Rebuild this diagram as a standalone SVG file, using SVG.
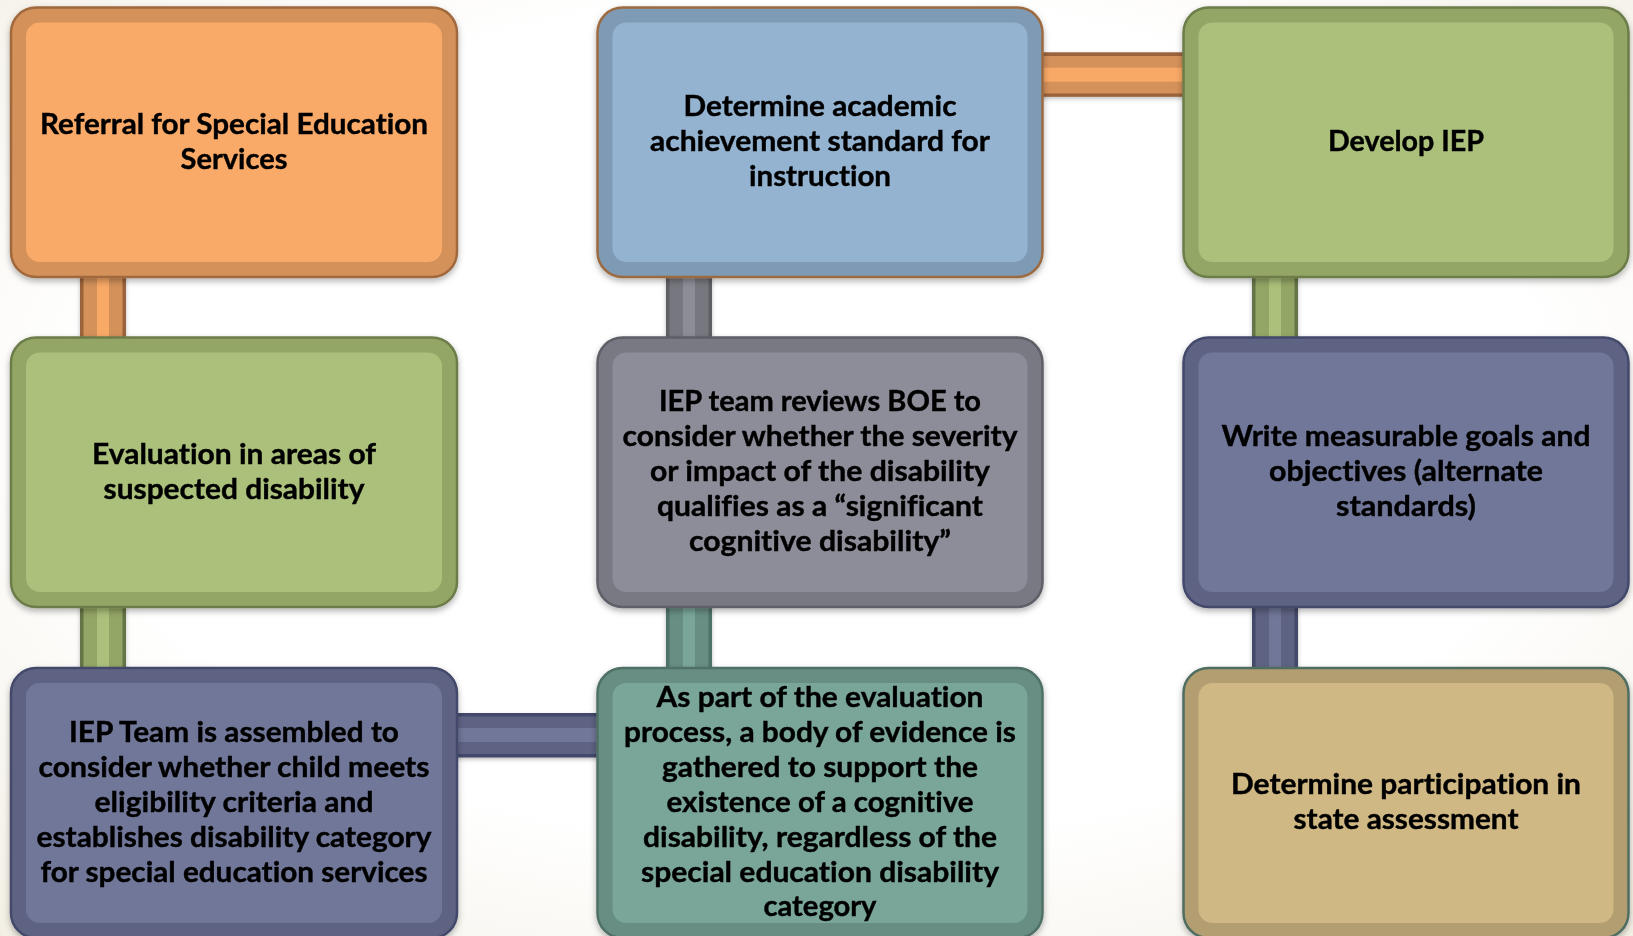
<svg xmlns="http://www.w3.org/2000/svg" width="1633" height="936" viewBox="0 0 1633 936">
<defs>
<radialGradient id="bg" cx="50%" cy="45%" r="75%">
<stop offset="0.6" stop-color="#FFFFFF"/>
<stop offset="1" stop-color="#F3EFE4"/>
</radialGradient>
<filter id="sh" x="-5%" y="-5%" width="110%" height="115%">
<feDropShadow dx="0" dy="3" stdDeviation="3" flood-color="#000" flood-opacity="0.3"/>
</filter>
<filter id="csh" x="-10%" y="-20%" width="120%" height="140%">
<feDropShadow dx="0" dy="2" stdDeviation="2" flood-color="#000" flood-opacity="0.25"/>
</filter>
</defs>
<style>
text{font-family:Lato,"Open Sans","Liberation Sans",sans-serif;font-weight:bold;font-size:29px;fill:#000;stroke:#000;stroke-width:0.4px;text-anchor:middle;font-variant-ligatures:none;font-feature-settings:"liga" 0}
.box{filter:url(#sh)}
.conn{filter:url(#csh)}
.or .o{fill:#9A633A}.or .b{fill:#D4915A}.or .l{fill:#F9A966}
.gr .o{fill:#657547}.gr .b{fill:#93A665}.gr .l{fill:#ABC07A}
.sl .o{fill:#43486A}.sl .b{fill:#5F6483}.sl .l{fill:#717799}
.te .o{fill:#4F7268}.te .b{fill:#678E83}.te .l{fill:#7AA69A}
.gy .o{fill:#5E5E66}.gy .b{fill:#77777F}.gy .l{fill:#8D8D97}
.outer{stroke-width:2.5}
</style>
<rect x="0" y="0" width="1633" height="936" fill="url(#bg)"/>

<g id="connectors">
  <g class="conn or"><rect class="o" x="80" y="268" width="46" height="78"/><rect class="b" x="83.5" y="268" width="39" height="78"/><rect class="l" x="97" y="268" width="12" height="78"/></g>
  <g class="conn gr"><rect class="o" x="80" y="598" width="46" height="78"/><rect class="b" x="83.5" y="598" width="39" height="78"/><rect class="l" x="97" y="598" width="12" height="78"/></g>
  <g class="conn sl"><rect class="o" x="448" y="713" width="158" height="44.5"/><rect class="b" x="448" y="716.5" width="158" height="37.5"/><rect class="l" x="448" y="728" width="158" height="14"/></g>
  <g class="conn te"><rect class="o" x="666" y="598" width="46" height="78"/><rect class="b" x="669.5" y="598" width="39" height="78"/><rect class="l" x="683" y="598" width="12" height="78"/></g>
  <g class="conn gy"><rect class="o" x="666" y="268" width="46" height="78"/><rect class="b" x="669.5" y="268" width="39" height="78"/><rect class="l" x="683" y="268" width="12" height="78"/></g>
  <g class="conn or"><rect class="o" x="1034" y="52.3" width="158" height="44.5"/><rect class="b" x="1034" y="56" width="158" height="37.5"/><rect class="l" x="1034" y="67.7" width="158" height="14"/></g>
  <g class="conn gr"><rect class="o" x="1252" y="268" width="46" height="78"/><rect class="b" x="1255.5" y="268" width="39" height="78"/><rect class="l" x="1269" y="268" width="12" height="78"/></g>
  <g class="conn sl"><rect class="o" x="1252" y="598" width="46" height="78"/><rect class="b" x="1255.5" y="598" width="39" height="78"/><rect class="l" x="1269" y="598" width="12" height="78"/></g>
</g>

<g id="referral" class="box">
  <rect class="outer" x="11" y="7.5" width="446" height="269.5" rx="25" fill="#D4915A" stroke="#A0683C"/>
  <rect x="26" y="22.5" width="416" height="239.5" rx="14" fill="#F9AA69"/>
  <text x="234" y="133.5" textLength="388" lengthAdjust="spacingAndGlyphs">Referral for Special Education</text>
  <text x="234" y="168.5" textLength="107" lengthAdjust="spacingAndGlyphs">Services</text>
</g>

<g id="academic" class="box">
  <rect class="outer" x="597.5" y="7.5" width="445" height="269.5" rx="25" fill="#7E9AB4" stroke="#9C6B40"/>
  <rect x="612.5" y="22.5" width="415" height="239.5" rx="14" fill="#93B3D1"/>
  <text x="820" y="116" textLength="273" lengthAdjust="spacingAndGlyphs">Determine academic</text>
  <text x="820" y="151" textLength="340" lengthAdjust="spacingAndGlyphs">achievement standard for</text>
  <text x="820" y="186" textLength="142" lengthAdjust="spacingAndGlyphs">instruction</text>
</g>

<g id="develop" class="box">
  <rect class="outer" x="1183.5" y="7.5" width="445" height="269.5" rx="25" fill="#93A665" stroke="#6C7D4A"/>
  <rect x="1198.5" y="22.5" width="415" height="239.5" rx="14" fill="#ABC07A"/>
  <text x="1406" y="151" textLength="156" lengthAdjust="spacingAndGlyphs">Develop IEP</text>
</g>

<g id="evaluation" class="box">
  <rect class="outer" x="11" y="337.5" width="446" height="269.5" rx="25" fill="#93A665" stroke="#6C7D4A"/>
  <rect x="26" y="352.5" width="416" height="239.5" rx="14" fill="#ABC07A"/>
  <text x="234" y="463.5" textLength="284" lengthAdjust="spacingAndGlyphs">Evaluation in areas of</text>
  <text x="234" y="498.5" textLength="261" lengthAdjust="spacingAndGlyphs">suspected disability</text>
</g>

<g id="review" class="box">
  <rect class="outer" x="597.5" y="337.5" width="445" height="269.5" rx="25" fill="#797983" stroke="#5E5E67"/>
  <rect x="612.5" y="352.5" width="415" height="239.5" rx="14" fill="#8D8D99"/>
  <text x="820" y="411" textLength="322" lengthAdjust="spacingAndGlyphs">IEP team reviews BOE to</text>
  <text x="820" y="446" textLength="395" lengthAdjust="spacingAndGlyphs">consider whether the severity</text>
  <text x="820" y="481" textLength="340" lengthAdjust="spacingAndGlyphs">or impact of the disability</text>
  <text x="820" y="516" textLength="326" lengthAdjust="spacingAndGlyphs">qualifies as a “significant</text>
  <text x="820" y="551" textLength="262" lengthAdjust="spacingAndGlyphs">cognitive disability”</text>
</g>

<g id="goals" class="box">
  <rect class="outer" x="1183.5" y="337.5" width="445" height="269.5" rx="25" fill="#5F6483" stroke="#43486A"/>
  <rect x="1198.5" y="352.5" width="415" height="239.5" rx="14" fill="#717799"/>
  <text x="1406" y="446" textLength="369" lengthAdjust="spacingAndGlyphs">Write measurable goals and</text>
  <text x="1406" y="481" textLength="274" lengthAdjust="spacingAndGlyphs">objectives (alternate</text>
  <text x="1406" y="516" textLength="140" lengthAdjust="spacingAndGlyphs">standards)</text>
</g>

<g id="team" class="box">
  <rect class="outer" x="11" y="668" width="446" height="270" rx="25" fill="#5F6483" stroke="#43486A"/>
  <rect x="26" y="683" width="416" height="240" rx="14" fill="#717799"/>
  <text x="234" y="742" textLength="330" lengthAdjust="spacingAndGlyphs">IEP Team is assembled to</text>
  <text x="234" y="777" textLength="391" lengthAdjust="spacingAndGlyphs">consider whether child meets</text>
  <text x="234" y="812" textLength="279" lengthAdjust="spacingAndGlyphs">eligibility criteria and</text>
  <text x="234" y="847" textLength="395" lengthAdjust="spacingAndGlyphs">establishes disability category</text>
  <text x="234" y="882" textLength="387" lengthAdjust="spacingAndGlyphs">for special education services</text>
</g>

<g id="evidence" class="box">
  <rect class="outer" x="597.5" y="668" width="445" height="270" rx="25" fill="#678E83" stroke="#4F7066"/>
  <rect x="612.5" y="683" width="415" height="240" rx="14" fill="#7AA69A"/>
  <text x="820" y="707" textLength="327" lengthAdjust="spacingAndGlyphs">As part of the evaluation</text>
  <text x="820" y="742" textLength="392" lengthAdjust="spacingAndGlyphs">process, a body of evidence is</text>
  <text x="820" y="777" textLength="316" lengthAdjust="spacingAndGlyphs">gathered to support the</text>
  <text x="820" y="812" textLength="307" lengthAdjust="spacingAndGlyphs">existence of a cognitive</text>
  <text x="820" y="847" textLength="354" lengthAdjust="spacingAndGlyphs">disability, regardless of the</text>
  <text x="820" y="882" textLength="358" lengthAdjust="spacingAndGlyphs">special education disability</text>
  <text x="820" y="916" textLength="113" lengthAdjust="spacingAndGlyphs">category</text>
</g>

<g id="assessment" class="box">
  <rect class="outer" x="1183.5" y="668" width="445" height="270" rx="25" fill="#B39E71" stroke="#4F6D60"/>
  <rect x="1198.5" y="683" width="415" height="240" rx="14" fill="#CFB883"/>
  <text x="1406" y="794" textLength="350" lengthAdjust="spacingAndGlyphs">Determine participation in</text>
  <text x="1406" y="829" textLength="225" lengthAdjust="spacingAndGlyphs">state assessment</text>
</g>
</svg>
